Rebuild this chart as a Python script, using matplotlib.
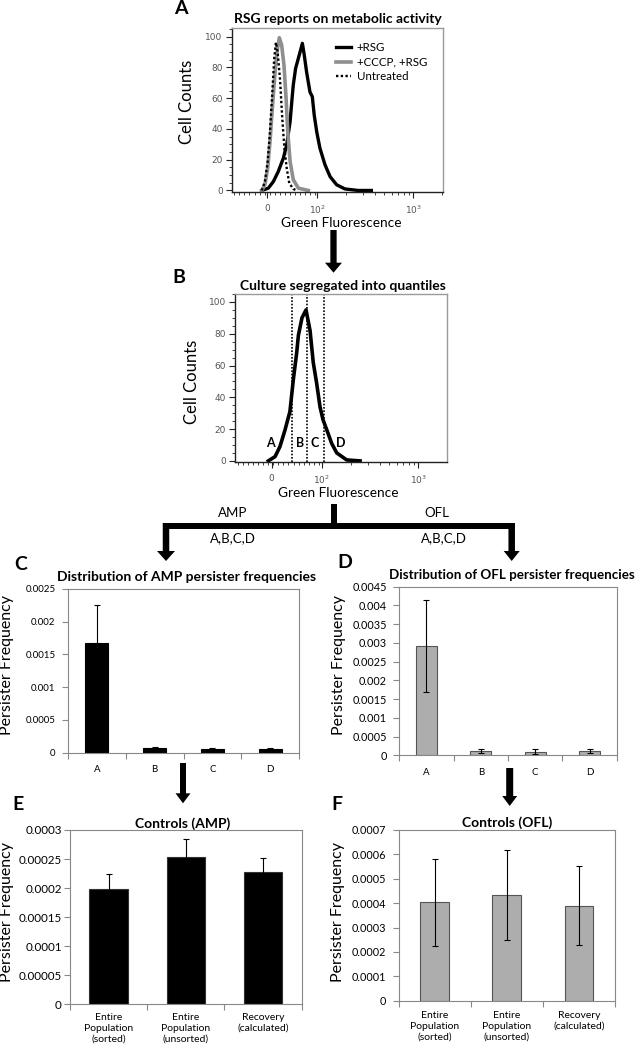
import matplotlib
matplotlib.use("Agg")
import matplotlib.pyplot as plt
from matplotlib.patches import FancyArrow, Rectangle
from matplotlib.ticker import FixedLocator, FuncFormatter, MultipleLocator
import numpy as np

# ---------------- data ----------------
# Panel A: flow cytometry histograms (x = instrument channel on biexponential axis, 0-1000)
rsg_ch = [142, 173, 197, 220, 244, 260, 276, 284, 291, 302, 315, 323, 334, 343, 354,
          370, 381, 390, 402, 417, 441, 465, 496, 535, 598, 660]
rsg_cnt = [0, 1.5, 5.8, 12.3, 21, 29.7, 44.8, 57.8, 68.6, 79.4, 86, 90, 95.7, 88, 77,
           64, 61, 49, 38, 27.5, 16.7, 9, 3.7, 1, 0, 0]
cccp_ch = [142, 157, 170, 181, 192, 205, 216, 225, 236, 247, 257, 265, 276, 291, 315, 362]
cccp_cnt = [0, 3.7, 14.5, 31.8, 53.5, 77, 92, 99.4, 94.6, 81.6, 60, 38.3, 18.8, 7, 1.5, 0]
untr_ch = [142, 157, 170, 181, 192, 201, 209, 217, 228, 239, 249, 260, 272, 291, 307]
untr_cnt = [0, 5.8, 18.8, 38.3, 64, 86, 96.3, 90, 73, 47, 27.5, 14.5, 4.8, 1, 0]
series_a_labels = ["+RSG", "+CCCP, +RSG", "Untreated"]

# Panel B: sorted culture histogram and quantile gates
sort_ch = [157, 189, 212, 236, 259, 275, 291, 299, 316, 335, 354, 369, 385, 401, 415,
           433, 456, 480, 527, 590]
sort_cnt = [0, 2.7, 9, 19.5, 31, 51, 68, 79, 90, 95, 82, 62, 49, 34, 26, 19.5, 11, 5, 0.6, 0]
gate_ch = [270, 338, 420]
gate_names = ["A", "B", "C", "D"]

flow_tick_labels = ["0", r"$10^2$", r"$10^3$"]

# Panel C: AMP persister frequencies per quantile
amp_labels = ["A", "B", "C", "D"]
amp_vals = [0.00167, 0.00007, 0.00006, 0.00006]
amp_err = [0.00058, 0.00001, 0.00001, 0.00001]

# Panel D: OFL persister frequencies per quantile
ofl_labels = ["A", "B", "C", "D"]
ofl_vals = [0.00291, 0.00011, 0.00010, 0.00011]
ofl_err = [0.00123, 0.00006, 0.00006, 0.00005]

# Panels E/F: controls
ctrl_labels = ["Entire\nPopulation\n(sorted)", "Entire\nPopulation\n(unsorted)",
               "Recovery\n(calculated)"]
amp_ctrl_vals = [0.000198, 0.000254, 0.000227]
amp_ctrl_err = [0.000026, 0.000030, 0.000025]
ofl_ctrl_vals = [0.000403, 0.000432, 0.000390]
ofl_ctrl_err = [0.000180, 0.000185, 0.000162]

# ---------------- layout helpers ----------------
plt.rcParams['font.family'] = ['Lato', 'DejaVu Sans']
W, H = 637, 1050
fig = plt.figure(figsize=(W / 100, H / 100), dpi=100)


def rect(l, t, r, b):
    return [l / W, 1 - b / H, (r - l) / W, (b - t) / H]


def ftext(x, y, s, **kw):
    kw.setdefault('ha', 'center')
    kw.setdefault('va', 'center')
    fig.text(x / W, 1 - y / H, s, **kw)


def fmt(v, pos=None):
    if abs(v) < 1e-12:
        return "0"
    return np.format_float_positional(round(v, 7), trim='-')


def flow_axes(box, ticks, ylim):
    ax = fig.add_axes(box)
    ax.set_xlim(0, 1000)
    ax.set_ylim(*ylim)
    for s in ['top', 'right']:
        ax.spines[s].set_color('#9a9a9a')
    for s in ['left', 'bottom']:
        ax.spines[s].set_color('#222222')
    for s in ax.spines.values():
        s.set_linewidth(1.0)
    ax.set_xticks(ticks)
    ax.set_xticklabels(flow_tick_labels)
    minors = list(range(12, 400, 24)) + \
        [ticks[1] + (ticks[2] - ticks[1]) * np.log10(k) for k in range(2, 10)] + \
        [ticks[2] + (ticks[2] - ticks[1]) * np.log10(2)]
    ax.xaxis.set_minor_locator(FixedLocator(minors))
    ax.set_yticks(range(0, 101, 20))
    ax.yaxis.set_minor_locator(MultipleLocator(5))
    ax.tick_params(direction='out', length=4, width=0.8, color='#222222',
                   labelsize=6.5, labelcolor='#555555', pad=2.5)
    ax.tick_params(which='minor', direction='out', length=2, width=0.6, color='#222222')
    ax.tick_params(axis='x', pad=4.5)
    for lab in ax.get_xticklabels() + ax.get_yticklabels():
        lab.set_family('DejaVu Sans')
    return ax


def bar_axes(box, labels, vals, errs, color, edge, ymax, step, width,
             lab_size, lab_pad, ytick_size, ytick_pad):
    ax = fig.add_axes(box)
    x = np.arange(len(labels))
    ax.bar(x, vals, width=width, color=color, edgecolor=edge, linewidth=0.8, zorder=2)
    ax.errorbar(x, vals, yerr=errs, fmt='none', ecolor='black', elinewidth=0.8,
                capsize=2.2, capthick=0.8, zorder=3)
    ax.set_xlim(-0.5, len(labels) - 0.5)
    ax.set_ylim(0, ymax)
    ax.set_xticks(np.arange(len(labels) + 1) - 0.5)
    ax.set_xticklabels([])
    ax.set_xticks(x, minor=True)
    ax.set_xticklabels(labels, minor=True, linespacing=1.25)
    ax.tick_params(axis='x', which='minor', length=0, pad=lab_pad, labelsize=lab_size)
    ax.tick_params(axis='x', which='major', length=4.5, direction='out', color='#888888')
    ax.set_yticks(np.arange(0, ymax + step / 2, step))
    ax.yaxis.set_major_formatter(FuncFormatter(fmt))
    ax.tick_params(axis='y', length=4, direction='out', color='#888888',
                   labelsize=ytick_size, pad=ytick_pad)
    for s in ax.spines.values():
        s.set_color('#888888')
        s.set_linewidth(0.8)
    return ax


TITLE = dict(fontsize=10, fontweight='bold')
LETTER = dict(fontsize=14, fontweight='bold')

# ---------------- Panel A ----------------
axA = flow_axes(rect(231.7, 28.3, 443.3, 191.7), [168, 405, 858], (-0.8, 105.5))
lA1, = axA.plot(rsg_ch, rsg_cnt, color='black', lw=2.4, solid_joinstyle='round')
lA2, = axA.plot(cccp_ch, cccp_cnt, color='#8f8f8f', lw=2.6, solid_joinstyle='round')
lA3, = axA.plot(untr_ch, untr_cnt, color='black', lw=1.7, ls=(0, (1, 1)))
axA.legend([lA1, lA2, lA3], series_a_labels, loc='upper left', bbox_to_anchor=(0.495, 0.915),
           frameon=False, fontsize=8.3, handlelength=1.3, handletextpad=0.45,
           labelspacing=0.3, borderpad=0, borderaxespad=0)

ftext(180.8, 8.5, "A", **LETTER)
ftext(338.3, 19, "RSG reports on metabolic activity", **TITLE)
ftext(187.5, 101.7, "Cell Counts", fontsize=12, rotation=90)
ftext(340.8, 223, "Green Fluorescence", fontsize=9.8)

# ---------------- Panel B ----------------
axB = flow_axes(rect(235, 294, 447, 461.7), [173, 409, 865], (-0.5, 105))
axB.plot(sort_ch, sort_cnt, color='black', lw=2.6, solid_joinstyle='round')
for g in gate_ch:
    axB.axvline(g, color='black', lw=1.2, ls=(0, (1, 1)))
gate_mid = [168, 307, 376, 499]
for name, gx in zip(gate_names, gate_mid):
    axB.text(gx, 11.3, name, fontsize=9, fontweight='bold', ha='center', va='center')

ftext(179, 277.5, "B", **LETTER)
ftext(342.7, 285.7, "Culture segregated into quantiles", **TITLE)
ftext(191.7, 382, "Cell Counts", fontsize=12, rotation=90)
ftext(338.5, 493, "Green Fluorescence", fontsize=9.8)

# ---------------- Panel C ----------------
axC = bar_axes(rect(68, 589, 299, 752.5), amp_labels, amp_vals, amp_err, 'black', 'black',
               0.0025, 0.0005, 0.4, 7, 9, 7, 5)
ftext(20.8, 564, "C", **LETTER)
ftext(187, 577, "Distribution of AMP persister frequencies", **TITLE)
ftext(7, 665, "Persister Frequency", fontsize=11.5, rotation=90)

# ---------------- Panel D ----------------
axD = bar_axes(rect(399.3, 586.7, 616.7, 755.3), ofl_labels, ofl_vals, ofl_err, '#adadad',
               '#555555', 0.0045, 0.0005, 0.39, 7, 9, 7.8, 5)
ftext(345, 562, "D", **LETTER)
ftext(635, 575, "Distribution of OFL persister frequencies", ha='right', va='center',
      fontsize=9.6, fontweight='bold')
ftext(339, 665, "Persister Frequency", fontsize=11.5, rotation=90)

# ---------------- Panel E ----------------
axE = bar_axes(rect(70, 830, 301.7, 1004.3), ctrl_labels, amp_ctrl_vals, amp_ctrl_err, 'black',
               '#333333', 0.0003, 0.00005, 0.5, 7.5, 6.5, 8.4, 2)
ftext(17.5, 804, "E", **LETTER)
ftext(182.5, 823.3, "Controls (AMP)", **TITLE)
ftext(7, 912, "Persister Frequency", fontsize=11.5, rotation=90)

# ---------------- Panel F ----------------
axF = bar_axes(rect(398.7, 830, 615, 1000.7), ctrl_labels, ofl_ctrl_vals, ofl_ctrl_err, '#adadad',
               '#555555', 0.0007, 0.0001, 0.4, 7.5, 7.5, 7.8, 5)
ftext(336.7, 804, "F", **LETTER)
ftext(507, 822.7, "Controls (OFL)", **TITLE)
ftext(338, 912, "Persister Frequency", fontsize=11.5, rotation=90)

# ---------------- flow-chart arrows ----------------
ov = fig.add_axes([0, 0, 1, 1])
ov.set_xlim(0, W)
ov.set_ylim(H, 0)
ov.axis('off')


def down_arrow(x, y0, y1, w, hw, hl):
    ov.add_patch(FancyArrow(x, y0, 0, y1 - y0, width=w, head_width=hw, head_length=hl,
                            length_includes_head=True, color='black', lw=0))


down_arrow(333.5, 230, 272.7, 6.3, 17, 10)
ov.add_patch(Rectangle((331, 504), 5.6, 20, color='black', lw=0))
ov.add_patch(Rectangle((162.7, 522.5), 515 - 162.7, 6.3, color='black', lw=0))
down_arrow(166, 523, 561, 6.5, 18, 10)
down_arrow(511.7, 523, 561, 6.5, 16, 10)
down_arrow(183, 763, 803.3, 6, 15, 10)
down_arrow(509.7, 768, 806, 7, 15, 10)

ftext(233, 513, "AMP", fontsize=9.5)
ftext(232.5, 538, "A,B,C,D", fontsize=9.5)
ftext(436.7, 513, "OFL", fontsize=9.5)
ftext(443.8, 538, "A,B,C,D", fontsize=9.5)

fig.savefig("out.png", dpi=100)
